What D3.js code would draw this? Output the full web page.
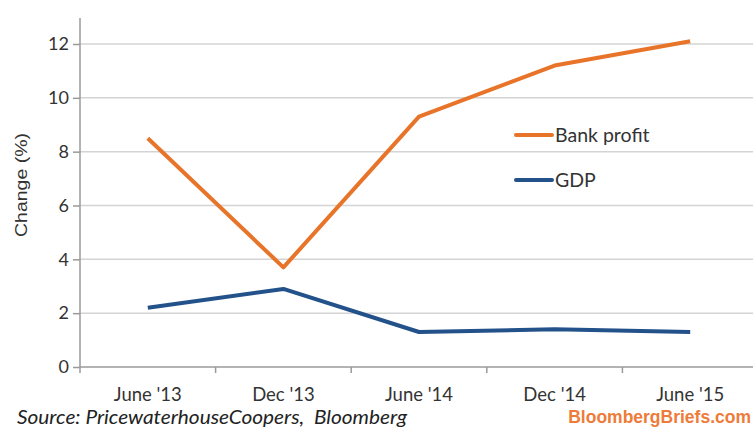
<!DOCTYPE html>
<html><head><meta charset="utf-8">
<script src="https://cdn.jsdelivr.net/npm/d3@7"></script>
<style>body{margin:0;background:#fff;overflow:hidden}svg{display:block}</style>
</head><body>
<svg id="c" width="753" height="428"></svg>
<script>
const categories = ["June '13", "Dec '13", "June '14", "Dec '14", "June '15"];
const bankProfit = [8.5, 3.7, 9.3, 11.2, 12.1];
const gdp = [2.2, 2.9, 1.3, 1.4, 1.3];
const yTicks = [0, 2, 4, 6, 8, 10, 12];
const seriesNames = ["Bank profit", "GDP"];
const colors = ["#e8742a", "#23518a"];

(function () {
const svg = d3.select("#c");
const mLeft = 80, mRight = 758, mTop = 18, mBottom = 367;
const x = d3.scaleBand().domain(categories).range([mLeft, mRight]);
const y = d3.scaleLinear().domain([0, 12]).range([mBottom, 44]);
const font = "Lato, 'Open Sans', sans-serif";

// gridlines
svg.append("g").selectAll("line").data(yTicks.filter(d => d > 0)).join("line")
  .attr("x1", mLeft).attr("x2", 753).attr("y1", d => y(d)).attr("y2", d => y(d))
  .attr("stroke", "#d4d4d4").attr("stroke-width", 1.5);

// y axis
const ya = svg.append("g").attr("transform", `translate(${mLeft},0)`)
  .call(d3.axisLeft(y).tickValues(yTicks).tickSize(7).tickPadding(4));
ya.select(".domain").attr("d", `M0,${mTop}V${mBottom}`).attr("stroke", "#9a9a9a").attr("stroke-width", 1.5);
ya.selectAll(".tick line").attr("stroke", "#9a9a9a").attr("stroke-width", 1.5);
ya.selectAll(".tick text").attr("font-family", font).attr("font-size", 18).attr("fill", "#333");

// x axis
const xa = svg.append("g").attr("transform", `translate(0,${mBottom})`)
  .call(d3.axisBottom(x).tickSize(0).tickPadding(21));
xa.select(".domain").attr("d", `M${mLeft},0H753`).attr("stroke", "#9a9a9a").attr("stroke-width", 1.5);
xa.selectAll(".tick text").attr("font-family", font).attr("font-size", 18.5).attr("fill", "#333");
// boundary ticks
svg.append("g").selectAll("line").data(categories).join("line")
  .attr("x1", d => x(d)).attr("x2", d => x(d))
  .attr("y1", mBottom).attr("y2", mBottom + 6)
  .attr("stroke", "#9a9a9a").attr("stroke-width", 1.5);

// y label
svg.append("text").attr("transform", "translate(27,185) rotate(-90)")
  .attr("text-anchor", "middle").attr("font-family", "'Liberation Sans', Arial, sans-serif")
  .attr("font-size", 17).attr("fill", "#333")
  .attr("textLength", 104).attr("lengthAdjust", "spacingAndGlyphs").text("Change (%)");

const line = d3.line().x((d, i) => x(categories[i]) + x.bandwidth() / 2).y(d => y(d));
[bankProfit, gdp].forEach((s, i) => {
  svg.append("path").datum(s).attr("d", line).attr("fill", "none")
    .attr("stroke", colors[i]).attr("stroke-width", 4).attr("stroke-linejoin", "round");
});

// legend
const leg = svg.append("g");
[135, 180].forEach((ly, i) => {
  leg.append("line").attr("x1", 516).attr("x2", 552).attr("y1", ly).attr("y2", ly)
    .attr("stroke", colors[i]).attr("stroke-width", 4).attr("stroke-linecap", "round");
  leg.append("text").attr("x", 555).attr("y", ly + 6.5).attr("font-family", font)
    .attr("font-size", 19.5).attr("fill", "#333").text(seriesNames[i]);
});

// footer
svg.append("text").attr("x", 17).attr("y", 424).attr("font-family", font)
  .attr("font-style", "italic").attr("font-size", 18.5).attr("fill", "#222")
  .attr("textLength", 390).attr("lengthAdjust", "spacingAndGlyphs")
  .text("Source: PricewaterhouseCoopers,\u00a0 Bloomberg");
svg.append("text").attr("x", 751).attr("y", 423).attr("text-anchor", "end")
  .attr("font-family", "'Liberation Sans', Arial, sans-serif")
  .attr("font-weight", "bold").attr("font-size", 17.5).attr("fill", "#ee7b3a")
  .text("BloombergBriefs.com");
})();
</script>
</body></html>
